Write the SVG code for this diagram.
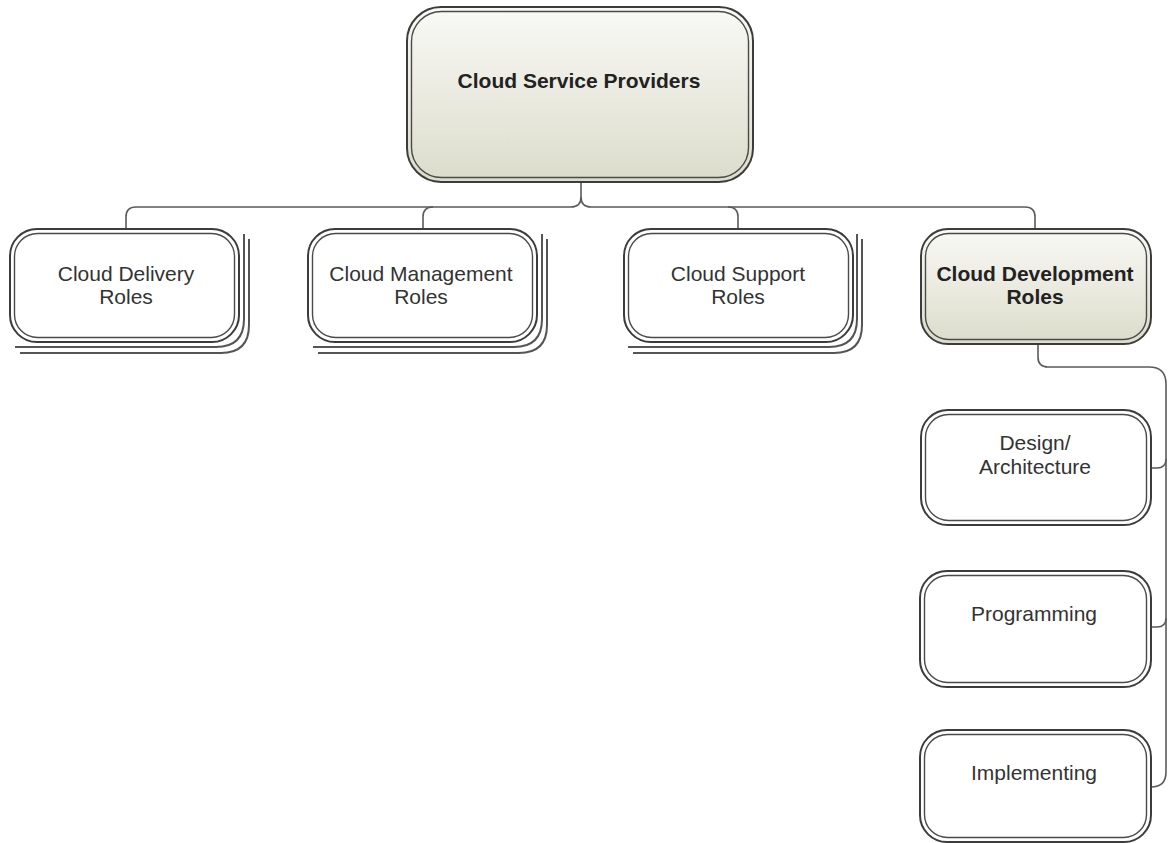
<svg xmlns="http://www.w3.org/2000/svg" width="1168" height="843" viewBox="0 0 1168 843">
<style>
.o{fill:#fff;stroke:#3c3c3c;stroke-width:2}
.g{fill:url(#gr);stroke:#3c3c3c;stroke-width:2}
.i{fill:none;stroke:#4a4a4a;stroke-width:1.4}
.st{fill:none;stroke:#555;stroke-width:2}
.c{fill:none;stroke:#5a5a5a;stroke-width:1.6}
text{font-family:"Liberation Sans",Arial,sans-serif;font-size:21px;fill:#333;text-anchor:middle}
.b{font-weight:bold;fill:#222}
</style>
<defs>
<linearGradient id="gr" x1="0" y1="0" x2="0" y2="1">
<stop offset="0" stop-color="#f9f9f6"/>
<stop offset="1" stop-color="#dcdccb"/>
</linearGradient>
</defs>
<rect width="1168" height="843" fill="#fff"/>
<g id="connectors">
<path class="c" d="M581,182 V197 Q581,207 571,207 H136 Q126,207 126,217 V229"/>
<path class="c" d="M581,197 Q581,207 591,207 H1025 Q1035,207 1035,217 V229"/>
<path class="c" d="M423,229 V217 Q423,207 433,207"/>
<path class="c" d="M738,229 V217 Q738,207 728,207"/>
<path class="c" d="M1038,344 V357 Q1038,367 1048,367 H1149 Q1166,367 1166,384 V772 Q1166,787 1151,787"/>
<path class="c" d="M1151,468 H1157 Q1166,468 1166,459"/>
<path class="c" d="M1151,627 H1157 Q1166,627 1166,618"/>
</g>
<g id="n-providers">
<rect class="g" x="407" y="7" width="346" height="175" rx="34"/>
<rect class="i" x="411.5" y="11.5" width="337" height="166" rx="30"/>
<text class="b" x="579" y="88">Cloud Service Providers</text>
</g>
<g id="n-delivery">
<path class="st" d="M20,353 H221 Q249,353 249,325 V239"/>
<path class="st" d="M15,347 H216 Q244,347 244,319 V234"/>
<rect class="o" x="10" y="229" width="229" height="113" rx="27"/>
<rect class="i" x="14.5" y="233.5" width="220" height="104" rx="23"/>
<text x="126" y="281">Cloud Delivery</text>
<text x="126" y="304">Roles</text>
</g>
<g id="n-management">
<path class="st" d="M318,353 H519 Q547,353 547,325 V239"/>
<path class="st" d="M313,347 H514 Q542,347 542,319 V234"/>
<rect class="o" x="308" y="229" width="229" height="113" rx="27"/>
<rect class="i" x="312.5" y="233.5" width="220" height="104" rx="23"/>
<text x="421" y="281">Cloud Management</text>
<text x="421" y="304">Roles</text>
</g>
<g id="n-support">
<path class="st" d="M633,353 H834 Q862,353 862,325 V239"/>
<path class="st" d="M628,347 H829 Q857,347 857,319 V234"/>
<rect class="o" x="624" y="229" width="229" height="113" rx="27"/>
<rect class="i" x="628.5" y="233.5" width="220" height="104" rx="23"/>
<text x="738" y="281">Cloud Support</text>
<text x="738" y="304">Roles</text>
</g>
<g id="n-development">
<rect class="g" x="921" y="229" width="230" height="115" rx="27"/>
<rect class="i" x="925.5" y="233.5" width="221" height="106" rx="23"/>
<text class="b" x="1035" y="281">Cloud Development</text>
<text class="b" x="1035" y="304">Roles</text>
</g>
<g id="n-design">
<rect class="o" x="921" y="410" width="230" height="115" rx="27"/>
<rect class="i" x="925.5" y="414.5" width="221" height="106" rx="23"/>
<text x="1035" y="450">Design/</text>
<text x="1035" y="474">Architecture</text>
</g>
<g id="n-programming">
<rect class="o" x="920" y="571" width="231" height="116" rx="27"/>
<rect class="i" x="924.5" y="575.5" width="222" height="107" rx="23"/>
<text x="1034" y="621">Programming</text>
</g>
<g id="n-implementing">
<rect class="o" x="920" y="730" width="231" height="112" rx="27"/>
<rect class="i" x="924.5" y="734.5" width="222" height="103" rx="23"/>
<text x="1034" y="780">Implementing</text>
</g>
</svg>
